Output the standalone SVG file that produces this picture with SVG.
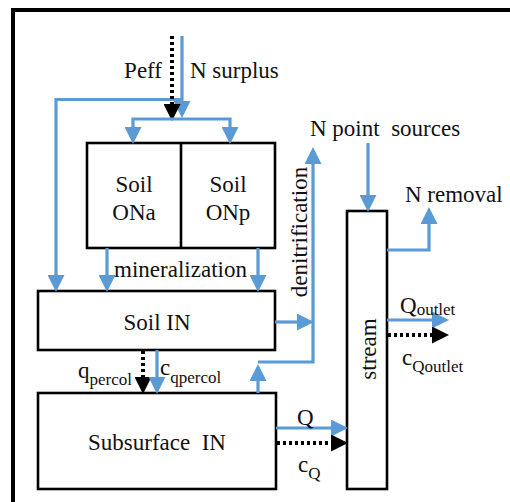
<svg xmlns="http://www.w3.org/2000/svg" width="510" height="502" viewBox="0 0 510 502">
<defs>
<style>
.box{fill:#fff;stroke:#000;stroke-width:2.6}
.b{fill:none;stroke:#5B9BD5;stroke-width:3.2}
.k{fill:none;stroke:#000;stroke-width:4;stroke-dasharray:3 3}
text{font-family:'Liberation Serif',serif;font-size:23px;fill:#111;white-space:pre}
.s{font-size:17px}
</style>
<marker id="ab" markerUnits="userSpaceOnUse" markerWidth="17" markerHeight="17" viewBox="0 0 17 17" refX="5" refY="8.5" orient="auto">
<path d="M0,0 L17,8.5 L0,17 z" fill="#5B9BD5"/>
</marker>
<marker id="ak" markerUnits="userSpaceOnUse" markerWidth="17" markerHeight="17" viewBox="0 0 17 17" refX="5" refY="8.5" orient="auto">
<path d="M0,0 L17,8.5 L0,17 z" fill="#000"/>
</marker>
</defs>
<rect width="510" height="502" fill="#fff"/>
<g id="frame">
<path d="M13,520 V10 H520" fill="none" stroke="#000" stroke-width="4"/>
</g>
<g id="soil-on" font-family="Liberation Serif, serif">
<rect class="box" x="87" y="143" width="188" height="105"/>
<line x1="181" y1="143" x2="181" y2="248" stroke="#000" stroke-width="2.6"/>
<text x="134" y="192" text-anchor="middle">Soil</text>
<text x="134" y="220" text-anchor="middle">ONa</text>
<text x="228" y="192" text-anchor="middle">Soil</text>
<text x="228" y="220" text-anchor="middle">ONp</text>
</g>
<g id="soil-in" font-family="Liberation Serif, serif">
<rect class="box" x="38" y="291" width="237" height="59"/>
<text x="157" y="330" text-anchor="middle">Soil IN</text>
</g>
<g id="subsurface-in" font-family="Liberation Serif, serif">
<rect class="box" x="38" y="393" width="238" height="96"/>
<text x="157" y="450" text-anchor="middle">Subsurface  IN</text>
</g>
<g id="stream" font-family="Liberation Serif, serif">
<rect class="box" x="347" y="211" width="40" height="278"/>
<text transform="translate(376,349) rotate(-90)" text-anchor="middle">stream</text>
</g>
<g id="connectors">
<path class="b" d="M182,99.5 H56 V280" marker-end="url(#ab)"/>
<path class="b" d="M182,36 V106" marker-end="url(#ab)"/>
<path class="k" d="M172,36 V109" marker-end="url(#ak)"/>
<path class="b" d="M182,119 H133 V132" marker-end="url(#ab)"/>
<path class="b" d="M182,119 H230 V132" marker-end="url(#ab)"/>
<path class="b" d="M107,248 V280" marker-end="url(#ab)"/>
<path class="b" d="M258,248 V280" marker-end="url(#ab)"/>
<path class="b" d="M275,322 H302" marker-end="url(#ab)"/>
<path class="b" d="M258,393 V376" marker-end="url(#ab)"/>
<path class="b" d="M258,362 H313 V159" marker-end="url(#ab)"/>
<path class="b" d="M368,143 V200" marker-end="url(#ab)"/>
<path class="b" d="M387,250 H429 V219" marker-end="url(#ab)"/>
<path class="b" d="M387,320 H437" marker-end="url(#ab)"/>
<path class="k" d="M388,335 H437" marker-end="url(#ak)"/>
<path class="b" d="M276,428 H336" marker-end="url(#ab)"/>
<path class="k" d="M277,443 H336" marker-end="url(#ak)"/>
<path class="k" d="M143,351 V382" marker-end="url(#ak)"/>
<path class="b" d="M157,350 V382" marker-end="url(#ab)"/>
</g>
<g id="labels" font-family="Liberation Serif, serif">
<text x="162" y="78" text-anchor="end">Peff</text>
<text x="190" y="78">N surplus</text>
<text x="180.5" y="277" text-anchor="middle">mineralization</text>
<text transform="translate(307,232) rotate(-90)" text-anchor="middle">denitrification</text>
<text x="310" y="136">N point  sources</text>
<text x="405" y="202">N removal</text>
<text x="400" y="313">Q<tspan class="s" dy="2">outlet</tspan></text>
<text x="402" y="365">c<tspan class="s" dy="7">Qoutlet</tspan></text>
<text x="297" y="425">Q</text>
<text x="298" y="472">c<tspan class="s" dy="7">Q</tspan></text>
<text x="78" y="378">q<tspan class="s" dy="7">percol</tspan></text>
<text x="160" y="375">c<tspan class="s" dy="8">qpercol</tspan></text>
</g>
</svg>
